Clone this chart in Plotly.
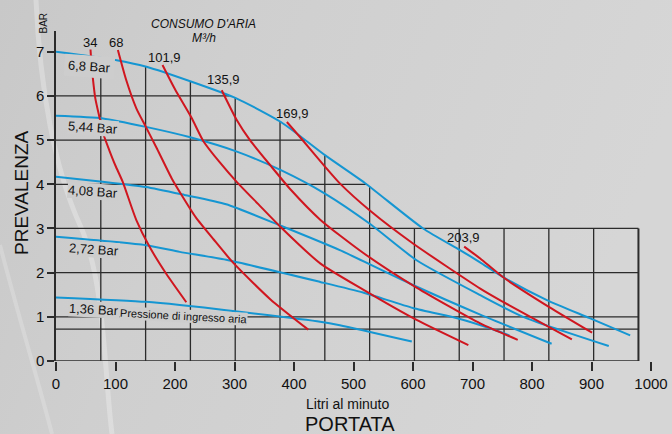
import base64
import numpy as np
import plotly.graph_objects as go

# ---------------- data ----------------
# Pressure curves (blue): x = flow (litri al minuto), y = head (bar)
p680_x = [0, 102, 152, 228, 304, 378, 452, 519, 617, 679, 712, 755, 825, 897, 965]
p680_y = [7.0, 6.81, 6.66, 6.32, 5.94, 5.41, 4.66, 4.03, 3.0, 2.51, 2.24, 1.87, 1.38, 0.97, 0.58]
p544_x = [0, 79, 151, 224, 304, 378, 452, 528, 606, 713, 785, 929]
p544_y = [5.55, 5.49, 5.30, 5.07, 4.74, 4.32, 3.79, 3.10, 2.28, 1.49, 1.0, 0.34]
p408_x = [0, 78, 151, 216, 286, 380, 477, 600, 713, 833]
p408_y = [4.17, 4.06, 3.94, 3.76, 3.55, 3.05, 2.51, 1.72, 1.05, 0.39]
p272_x = [0, 151, 208, 286, 444, 516, 600, 679, 729, 762]
p272_y = [2.81, 2.62, 2.47, 2.29, 1.79, 1.55, 1.20, 0.95, 0.74, 0.58]
p136_x = [0, 151, 208, 286, 444, 477, 598]
p136_y = [1.44, 1.34, 1.27, 1.15, 0.89, 0.81, 0.44]
pressure_labels = ["6,8 Bar", "5,44 Bar", "4,08 Bar", "2,72 Bar", "1,36 Bar"]
inlet_note = "Pressione di ingresso aria"

# Air consumption curves (red), M3/h
a034_x = [58, 59.5, 61.7, 66, 72.8, 80, 89.6, 100, 112, 135, 157, 185, 219]
a034_y = [7.05, 6.75, 6.43, 5.95, 5.53, 5.12, 4.77, 4.42, 4.06, 3.19, 2.59, 1.98, 1.33]
a068_x = [104, 118, 135, 151, 170, 195, 210, 235, 265, 298, 360, 424]
a068_y = [7.04, 6.36, 5.72, 5.30, 4.80, 4.12, 3.78, 3.25, 2.75, 2.22, 1.40, 0.71]
a102_x = [179, 200, 228, 248, 275, 304, 340, 377, 444, 517, 606, 693]
a102_y = [6.70, 6.15, 5.50, 4.97, 4.50, 4.05, 3.55, 3.04, 2.21, 1.61, 0.93, 0.36]
a136_x = [278.5, 304, 326, 362, 395, 444, 516, 606, 713, 776]
a136_y = [6.13, 5.45, 5.0, 4.40, 3.87, 3.20, 2.45, 1.66, 0.85, 0.48]
a170_x = [388, 410, 452, 477, 528, 600, 713, 746, 867]
a170_y = [5.41, 5.07, 4.40, 4.02, 3.40, 2.66, 1.64, 1.38, 0.49]
a204_x = [686, 713, 751, 829, 901]
a204_y = [2.59, 2.32, 1.90, 1.22, 0.64]
air_labels = ["34", "68", "101,9", "135,9", "169,9", "203,9"]

x_ticks = [0, 100, 200, 300, 400, 500, 600, 700, 800, 900, 1000]
y_ticks = [0, 1, 2, 3, 4, 5, 6, 7]
grid_step_x = 75.3
grid_cols = 13
grid_rows_full = [3, 2, 1, 0.72]
grid_rows_upper = [4, 5, 6]

# ---------------- layout constants ----------------
W, H = 672, 434
ML, MR, MT, MB = 56, 21, 31, 73
X_RANGE = [0, 1000]
Y_RANGE = [0, 7.47]
BG = "#d2d2d2"
MASK = "#cdcdcd"
BLUE = "#1596d2"
RED = "#d0161f"
GRID = "#2b2b2b"
FONT = "Liberation Sans, Arial, sans-serif"

pw = W - ML - MR
ph = H - MT - MB


def px2paper_x(px):
    return (px - ML) / pw


def px2paper_y(py):
    return (H - MB - py) / ph


# subtle background gradient with light streaks (decoration only)
svg = f"""<svg xmlns="http://www.w3.org/2000/svg" width="{W}" height="{H}" viewBox="0 0 {W} {H}" preserveAspectRatio="none">
<defs><linearGradient id="g" x1="0" y1="0" x2="1" y2="0.25">
<stop offset="0" stop-color="#c8c8c8"/><stop offset="0.35" stop-color="#cfcfcf"/><stop offset="1" stop-color="#d6d6d6"/>
</linearGradient></defs>
<rect width="{W}" height="{H}" fill="url(#g)"/>
<path d="M36 0 C 40 90, 55 170, 80 225 S 104 370, 112 434" stroke="#ffffff" stroke-opacity="0.28" stroke-width="5" fill="none"/>
<path d="M0 245 C 18 315, 38 380, 52 434" stroke="#ffffff" stroke-opacity="0.2" stroke-width="4" fill="none"/>
</svg>"""
bg_uri = "data:image/svg+xml;base64," + base64.b64encode(svg.encode()).decode()

fig = go.Figure()

# ---------------- grid ----------------
top_x = np.array(p680_x, float)
top_y = np.array(p680_y, float)
x_right = grid_step_x * grid_cols
shapes = []
for k in range(1, grid_cols + 1):
    gx = grid_step_x * k
    c = float(np.interp(gx, top_x, top_y))
    top = c if c > 3.5 else 3.0
    if k == grid_cols:
        top = 3.0
    shapes.append(dict(type="line", x0=gx, x1=gx, y0=0, y1=top,
                       line=dict(color=GRID, width=1.3 if k < grid_cols else 2), layer="below"))
for gy in grid_rows_full:
    shapes.append(dict(type="line", x0=0, x1=x_right, y0=gy, y1=gy,
                       line=dict(color=GRID, width=1.3), layer="below"))
for gy in grid_rows_upper:
    xe = float(np.interp(gy, top_y[::-1], top_x[::-1]))
    shapes.append(dict(type="line", x0=0, x1=xe, y0=gy, y1=gy,
                       line=dict(color=GRID, width=1.3), layer="below"))
# x axis line (stops at the grid border)
shapes.append(dict(type="line", x0=0, x1=x_right, y0=0, y1=0,
                   line=dict(color=GRID, width=1.5), layer="below"))

# ---------------- curves ----------------
blue_sets = [(p680_x, p680_y), (p544_x, p544_y), (p408_x, p408_y), (p272_x, p272_y), (p136_x, p136_y)]
for (xs, ys), name in zip(blue_sets, pressure_labels):
    fig.add_trace(go.Scatter(x=xs, y=ys, mode="lines", name=name,
                             line=dict(color=BLUE, width=2, shape="spline", smoothing=0.6),
                             hoverinfo="skip", showlegend=False))

red_sets = [(a034_x, a034_y), (a068_x, a068_y), (a102_x, a102_y), (a136_x, a136_y),
            (a170_x, a170_y), (a204_x, a204_y)]
for (xs, ys), name in zip(red_sets, air_labels):
    fig.add_trace(go.Scatter(x=xs, y=ys, mode="lines", name=name,
                             line=dict(color=RED, width=2, shape="spline", smoothing=0.6),
                             hoverinfo="skip", showlegend=False))

# ---------------- annotations ----------------
ann = []


def txt(text, px, py, size, angle=0, bg=None, pad=0, italic=False):
    d = dict(text=text, x=px2paper_x(px), y=px2paper_y(py), xref="paper", yref="paper",
             showarrow=False,
             font=dict(family=FONT, size=size, color="#111",
                       style="italic" if italic else "normal"),
             textangle=angle, xanchor="center", yanchor="middle")
    if bg:
        d["bgcolor"] = bg
        d["borderpad"] = pad
    ann.append(d)


# pressure labels (opaque, slightly tilted)
txt(pressure_labels[0], 89, 66, 13, 4, MASK, 3)
txt(pressure_labels[1], 92.5, 127.5, 13, 4, MASK, 0)
txt(pressure_labels[2], 92.5, 191, 13, 4, MASK, 0)
txt(pressure_labels[3], 94, 249.5, 13, 4, MASK, 0)
txt(pressure_labels[4], 93.5, 309, 13, 3, MASK, 0)
txt(inlet_note, 183.5, 315.5, 11, 3, MASK, 0)

# air consumption labels
red_label_px = [(90, 42.7), (115.5, 42.7), (164, 57.3), (223, 80), (292, 113), (463.5, 237.7)]
for lab, (px, py) in zip(air_labels, red_label_px):
    txt(lab, px, py, 13)

# titles
txt("CONSUMO D'ARIA", 203, 23.5, 12, italic=True)
txt("M³/h", 204, 38, 12, italic=True)
txt("BAR", 42.5, 23, 10, -90)
txt("PREVALENZA", 21, 193, 19, -90)
txt("Litri al minuto", 347, 403.5, 14)
txt("PORTATA", 350, 424, 20)

fig.update_layout(
    width=W, height=H,
    margin=dict(l=ML, r=MR, t=MT, b=MB, pad=0),
    paper_bgcolor=BG, plot_bgcolor="rgba(0,0,0,0)",
    images=[dict(source=bg_uri, xref="paper", yref="paper",
                 x=-ML / pw, y=1 + MT / ph, sizex=W / pw, sizey=H / ph,
                 sizing="stretch", xanchor="left", yanchor="top", layer="below")],
    shapes=shapes, annotations=ann,
    font=dict(family=FONT, color="#111"),
    xaxis=dict(range=X_RANGE, tickvals=x_ticks, ticks="outside", ticklen=9, tickwidth=1.5,
               tickcolor=GRID, showgrid=False, zeroline=False, showline=False,
               tickfont=dict(size=15, family=FONT, color="#111"), fixedrange=True,
               automargin=False),
    yaxis=dict(range=Y_RANGE, tickvals=y_ticks, ticks="outside", ticklen=7, tickwidth=1.5,
               tickcolor=GRID, showgrid=False, zeroline=False, showline=True,
               linecolor=GRID, linewidth=1.5,
               tickfont=dict(size=15, family=FONT, color="#111"), fixedrange=True,
               automargin=False),
)

fig.write_html("out.html", config={"displayModeBar": False},
               post_script="document.body.style.margin='0';document.documentElement.style.margin='0';")
